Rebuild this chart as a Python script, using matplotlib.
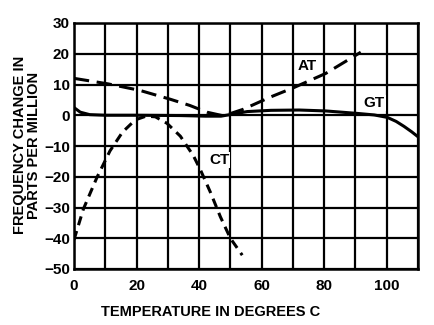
import matplotlib
matplotlib.use("Agg")
import matplotlib.pyplot as plt

plt.rcParams['font.family'] = ['Liberation Sans', 'DejaVu Sans']
plt.rcParams['font.weight'] = 'bold'
plt.rcParams['axes.unicode_minus'] = True

# Data
ct_temp = [0, 3, 7.3, 11.5, 15.5, 19.6, 23, 26, 29.7, 34, 38.2, 40.4, 43.6, 46.8, 50, 53.8]
ct_ppm = [-40.5, -30.5, -20.3, -11.6, -5.5, -1.5, -0.3, -0.5, -2.6, -6.8, -13.2, -17.7, -25, -33, -40, -45.5]

at_temp = [0, 10.9, 21, 30.8, 37, 42.5, 47.8, 54, 63, 70.3, 80.5, 91.7]
at_ppm = [12, 10.2, 8.1, 5.2, 3.2, 1.0, -0.2, 1.9, 6.0, 9.0, 13.6, 20.5]

gt_temp = [0, 2, 5, 10, 20, 34, 42, 47, 51, 55.4, 63, 72, 80.5, 90.6, 96, 100.2, 103, 105.5, 108, 110]
gt_ppm = [2.5, 1.0, 0.2, 0.0, 0.0, -0.1, -0.3, -0.3, 0.4, 1.2, 1.6, 1.7, 1.4, 0.6, 0.1, -0.7, -2.0, -3.6, -5.4, -7.0]

x_ticks = [0, 20, 40, 60, 80, 100]
y_ticks = [30, 20, 10, 0, -10, -20, -30, -40, -50]

fig = plt.figure(figsize=(4.35, 3.25), dpi=100)
ax = fig.add_axes([74/435, 1-269/325, (418-74)/435, (269-23)/325])

ax.set_xlim(0, 110)
ax.set_ylim(-50, 30)
ax.grid(True, color='black', linewidth=1.6)
ax.set_axisbelow(True)
for s in ax.spines.values():
    s.set_linewidth(1.8)
ax.set_xticks(range(0, 111, 10))
ax.set_yticks(range(-50, 31, 10))
ax.tick_params(length=0, labelsize=11)
ax.tick_params(axis='x', pad=7)
ax.tick_params(axis='y', pad=3)
ax.set_xticklabels([str(t) if t in x_ticks else '' for t in range(0, 111, 10)], fontweight='bold')
ax.set_yticklabels([('\u2212' + str(-t)) if t < 0 else str(t) for t in range(-50, 31, 10)], fontweight='bold')

ax.plot(ct_temp, ct_ppm, color='black', lw=2.2, dashes=(3.0, 2.0), solid_capstyle='butt')
ax.plot(at_temp, at_ppm, color='black', lw=2.2, dashes=(5.0, 2.5))
ax.plot(gt_temp, gt_ppm, color='black', lw=2.2)

ax.text(74.5, 16, 'AT', fontsize=11, fontweight='bold', ha='center', va='center',
        bbox=dict(facecolor='white', edgecolor='none', pad=0.5))
ax.text(96, 4, 'GT', fontsize=11, fontweight='bold', ha='center', va='center',
        bbox=dict(facecolor='white', edgecolor='none', pad=0.5))
ax.text(46.5, -14.5, 'CT', fontsize=11, fontweight='bold', ha='center', va='center',
        bbox=dict(facecolor='white', edgecolor='none', pad=0.5))

fig.text(27/435, 1-145/325, 'FREQUENCY CHANGE IN\nPARTS PER MILLION', rotation=90,
         ha='center', va='center', fontsize=10.5, fontweight='bold', linespacing=0.95)
fig.text(211/435, 1-312/325, 'TEMPERATURE IN DEGREES C', ha='center', va='center',
         fontsize=10.5, fontweight='bold')

fig.savefig('out.png', dpi=100)
